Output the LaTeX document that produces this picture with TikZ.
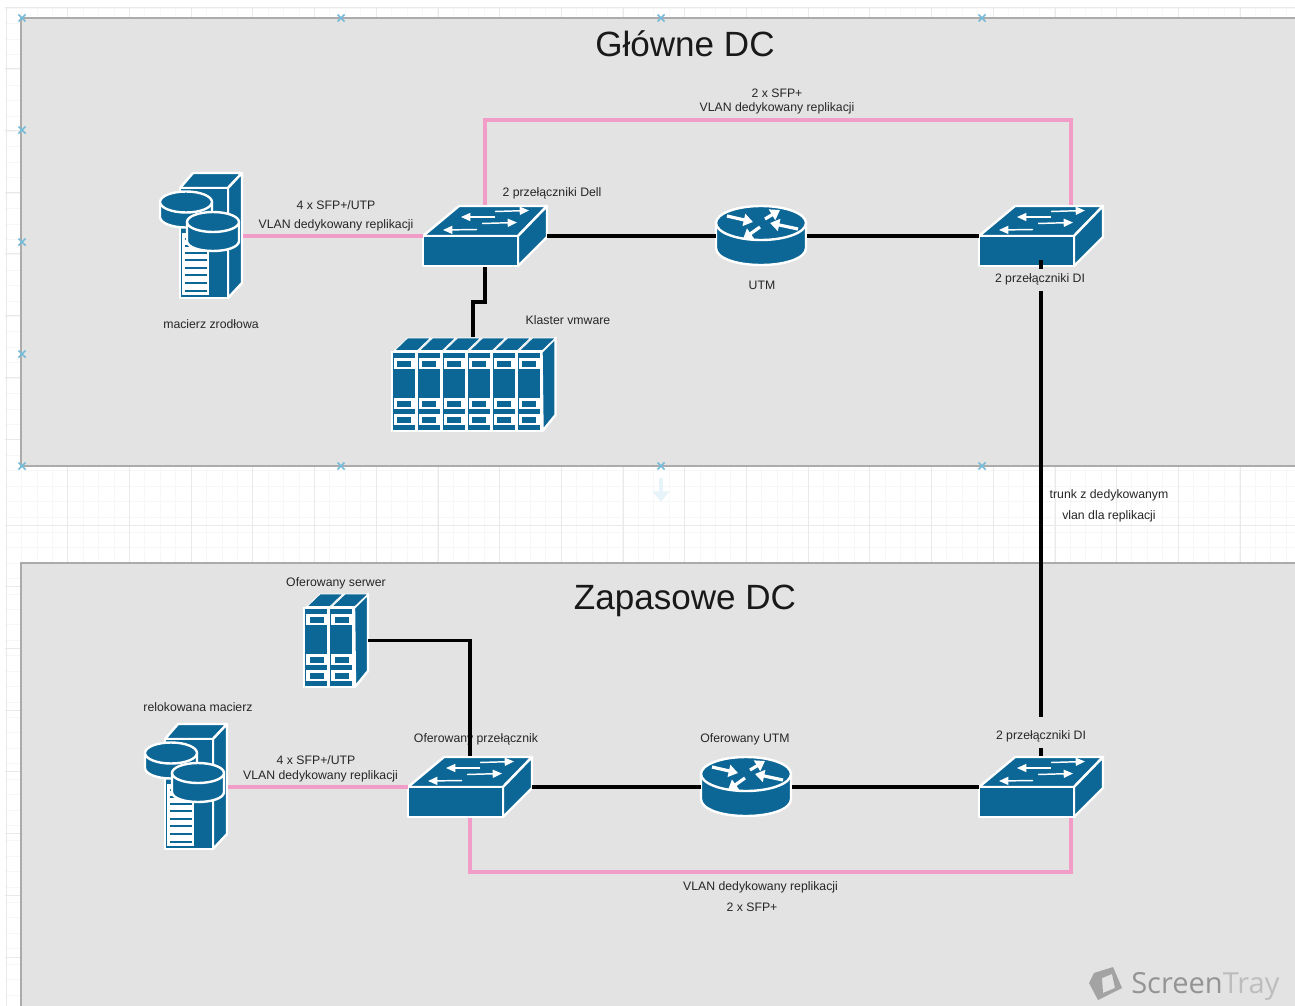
\documentclass[tikz,border=0pt]{standalone}
\usepackage{fontspec}
\setmainfont{Liberation Sans}
\newfontfamily\wmfont{Open Sans}
\usetikzlibrary{arrows.meta,calc}
\definecolor{devblue}{HTML}{0C6796}
\definecolor{panelgrey}{HTML}{E3E3E3}
\definecolor{panelline}{HTML}{ABABAB}
\definecolor{gridminor}{HTML}{F6F7F7}
\definecolor{gridmajor}{HTML}{E8E9E9}
\definecolor{pinkline}{HTML}{F29CC8}
\definecolor{markblue}{HTML}{76BBD8}
\tikzset{
  dev/.style={fill=devblue,draw=white,line width=1.8pt,line join=round},
  flow/.style={draw=white,line width=1.1pt,-{Triangle[length=7pt,width=6pt]}},
  fat/.style={draw=white,line width=2.4pt,-{Triangle[length=7pt,width=9pt]}},
  hit/.style={inner sep=0pt,outer sep=0pt,draw=none,fill=none,anchor=center},
  cab/.style={draw=black,line width=2.3pt},
  pink/.style={draw=pinkline,line width=2.3pt},
  lab/.style={font=\fontsize{9.2pt}{11pt}\selectfont,text=black!85,inner sep=0pt,anchor=base},
  title/.style={font=\fontsize{26.3pt}{30pt}\selectfont,text=black!90,inner sep=0pt,anchor=base},
  xmark/.style={draw=markblue,line width=1.1pt},
}
\newcommand\switchdev[3]{%
  \begin{scope}[shift={(#2,#3)}]
    \path[dev] (0,31) -- (36,1) -- (124,1) -- (95,31) -- cycle;
    \path[dev] (95,31) -- (124,1) -- (124,32) -- (95,61) -- cycle;
    \path[dev] (0,31) rectangle (95,61);
    \draw[flow] (72,6.5) -- (106,5.5);
    \draw[flow] (72,12) -- (38,12);
    \draw[flow] (59,18.5) -- (94,17.5);
    \draw[flow] (54,24.5) -- (20,25);
    \node[hit,minimum width=93pt,minimum height=46.5pt] (#1) at (62,31) {};
  \end{scope}}
\newcommand\routerdev[3]{%
  \begin{scope}[shift={(#2,#3)}]
    \path[dev] (-45,0) -- (-45,25) .. controls (-45,35) and (-25,42) .. (0,42) .. controls (25,42) and (45,35) .. (45,25) -- (45,0) -- cycle;
    \path[dev] (0,0) ellipse [x radius=45,y radius=17];
    \draw[fat] (-34,-7) -- (-8,-1);
    \draw[fat] (4,-4) -- (19,-13);
    \draw[fat] (37,6) -- (9,0);
    \draw[fat] (-1,4) -- (-18,16);
    \node[hit,minimum width=68.25pt,minimum height=44.25pt] (#1) at (0,13) {};
  \end{scope}}
\newcommand\diskdev[5]{% cx cy height rx ry
  \path[dev] (#1-#4,#2) -- (#1-#4,#2+#3) .. controls (#1-#4,#2+#3+6) and (#1-14,#2+#3+#5) .. (#1,#2+#3+#5) .. controls (#1+14,#2+#3+#5) and (#1+#4,#2+#3+6) .. (#1+#4,#2+#3) -- (#1+#4,#2) -- cycle;
  \path[dev] (#1,#2) ellipse [x radius=#4,y radius=#5];}
\newcommand\storagedev[3]{%
  \begin{scope}[shift={(#2,#3)}]
    \path[dev] (20,16) -- (33,1) -- (82,1) -- (68,16) -- cycle;
    \path[dev] (68,16) -- (82,1) -- (82,111) -- (68,126) -- cycle;
    \path[dev] (20,16) rectangle (68,126);
    \fill[white] (22,61) rectangle (49,123);
    \foreach \yy in {67,74,81,88,96,103,111,119}{\draw[devblue,line width=1pt] (25,\yy) -- (47,\yy);}
    \diskdev{26}{30}{15}{26}{10.5}
    \diskdev{53}{50}{19}{26}{10}
    \node[hit,minimum width=62.25pt,minimum height=96pt] (#1) at (41.5,64) {};
  \end{scope}}
\newcommand\bladedev[4]{%
  \begin{scope}[shift={(#2,#3)}]
    \pgfmathsetmacro\rackw{1+25*#4}
    \pgfmathsetmacro\racktop{\rackw+14}
    \fill[white] (0,14) rectangle (\rackw+1,95);
    \path[dev] (\rackw,15) -- (\racktop,1) -- (\racktop,78) -- (\rackw+1,94) -- cycle;
    \foreach \ii in {1,...,#4}{%
      \pgfmathsetmacro\bx{25*(\ii-1)}
      \path[fill=devblue,draw=white,line width=.6pt] (\bx+4,13.5) -- (\bx+17,1) -- (\bx+40,1) -- (\bx+27,13.5) -- cycle;
      \fill[devblue] (\bx+2,16) rectangle (\bx+24,93);
      \foreach \by in {21,61,77}{%
        \fill[white] (\bx+3,\by) rectangle (\bx+24,\by+11);
        \fill[devblue] (\bx+6.5,\by+2.5) rectangle (\bx+20.5,\by+8.5);}
    }
    \pgfmathsetmacro\halfw{(\racktop)/2}
    \node[hit,minimum width=\racktop*0.75pt,minimum height=71.25pt] (#1) at (\halfw,47.5) {};
  \end{scope}}
\newcommand\xm[2]{\draw[xmark] (#1-3.5,#2-3.5) -- (#1+3.5,#2+3.5) (#1-3.5,#2+3.5) -- (#1+3.5,#2-3.5);}
\begin{document}
\begin{tikzpicture}[x=0.75pt,y=-0.75pt]
\useasboundingbox (0,0) rectangle (1295,1006);
\clip (0,0) rectangle (1295,1006);
\fill[white] (0,0) rectangle (1295,1006);
\foreach \k in {0,...,84}{\draw[gridminor,line width=.5pt] ({6+15.42*\k},8) -- ({6+15.42*\k},1006);}
\foreach \k in {0,...,65}{\draw[gridminor,line width=.5pt] (5,{8+15.42*\k}) -- (1295,{8+15.42*\k});}
\foreach \k in {0,...,21}{\draw[gridmajor,line width=.5pt] ({6+61.7*\k},8) -- ({6+61.7*\k},1006);}
\foreach \k in {0,...,7}{\draw[gridmajor,line width=.5pt] (5,{7+61.7*\k}) -- (1295,{7+61.7*\k});}
\foreach \k in {0,...,8}{\draw[gridmajor,line width=.5pt] (5,{525+61.7*\k}) -- (1295,{525+61.7*\k});}
\fill[panelgrey] (21,18) rectangle (1295,466);
\fill[panelgrey] (21,563) rectangle (1295,1006);
\draw[panelline,line width=1.5pt] (1295,18) -- (21,18) -- (21,466) -- (1295,466);
\draw[panelline,line width=1.5pt] (1295,563) -- (21,563) -- (21,1006);
\xm{22}{18}\xm{341}{18}\xm{661}{18}\xm{982}{18}
\xm{22}{130}\xm{22}{242}\xm{22}{354}\xm{22}{466}
\xm{341}{466}\xm{661}{466}\xm{982}{466}
\draw[draw=markblue!18,line width=3pt,-{Triangle[length=8pt,width=12pt]}] (661,478) -- (661,502);
\storagedev{st1}{160}{172}
\storagedev{st2}{145}{723}
\switchdev{sw1}{423}{205}
\switchdev{sw3}{979}{205}
\switchdev{sw2}{408}{756}
\switchdev{sw4}{979}{756}
\routerdev{ro1}{761}{223}
\routerdev{ro2}{746}{774}
\bladedev{bl1}{390.5}{337}{6}
\bladedev{bl2}{303}{593}{2}
\draw[pink] (st1.east) -- (sw1.west);
\draw[pink] (st2.east) -- (sw2.west);
\draw[cab] (sw1.east) -- (ro1.west);
\draw[cab] (ro1.east) -- (sw3.west);
\draw[cab] (sw2.east) -- (ro2.west);
\draw[cab] (ro2.east) -- (sw4.west);
\draw[cab] (sw1.south) -- ++(0,35) -| (bl1.north);
\draw[pink] (sw1.north) |- ($(sw3.north)+(30,-85)$) -- ($(sw3.north)+(30,0)$);
\draw[pink] (sw2.south) |- ($(sw4.south)+(30,54)$) -- ($(sw4.south)+(30,0)$);
\draw[cab] ($(sw3.south)+(0,-7)$) -- (sw4.north);
\node[title] (t1) at (685,57) {Główne DC};
\node[title] (t2) at (685,609) {Zapasowe DC};
\node[lab] (l1) at (777,98) {2 x SFP+};
\node[lab] (l2) at (777,112) {VLAN dedykowany replikacji};
\node[lab] (l3) at (552,196) {2 przełączniki Dell};
\node[lab] (l4) at (336,209) {4 x SFP+/UTP};
\node[lab] (l5) at (336,228) {VLAN dedykowany replikacji};
\node[lab] (l6) at (211,328) {macierz zrodłowa};
\node[lab] (l7) at (762,289.5) {UTM};
\node[lab,fill=panelgrey,text height=10pt,text depth=6pt,inner xsep=4pt] (l8) at (1040,282.5) {2 przełączniki DI};
\node[lab] (l9) at (568,324) {Klaster vmware};
\node[lab] (l10) at (1109,498.5) {trunk z dedykowanym};
\node[lab] (l11) at (1109,519.5) {vlan dla replikacji};
\node[lab] (l12) at (336,586) {Oferowany serwer};
\node[lab] (l13) at (198,711) {relokowana macierz};
\node[lab] (l14) at (316,764) {4 x SFP+/UTP};
\node[lab] (l15) at (320.5,779.5) {VLAN dedykowany replikacji};
\node[lab] (l16) at (476,742.5) {Oferowany przełącznik};
\node[lab] (l17) at (745,742.5) {Oferowany UTM};
\node[lab,fill=panelgrey,text height=17pt,text depth=6pt,inner xsep=4pt] (l18) at (1041,739.5) {2 przełączniki DI};
\node[lab] (l19) at (760.5,890.5) {VLAN dedykowany replikacji};
\node[lab] (l20) at (752,911) {2 x SFP+};
\draw[cab] (bl2.east) -| (sw2.north);
\path[fill=black!36,even odd rule] (1094,973) -- (1113,967) -- (1122,988) -- (1098,1000) -- (1089,983) -- cycle (1102,978) -- (1112,974) -- (1115,988) -- (1103,993) -- cycle;
\node[inner sep=0pt,anchor=base west,font=\wmfont\fontsize{21.8pt}{24pt}\selectfont] (wm) at (1131,993) {\textcolor{black!42}{Screen}\textcolor{black!26}{Tray}};
\end{tikzpicture}
\end{document}
